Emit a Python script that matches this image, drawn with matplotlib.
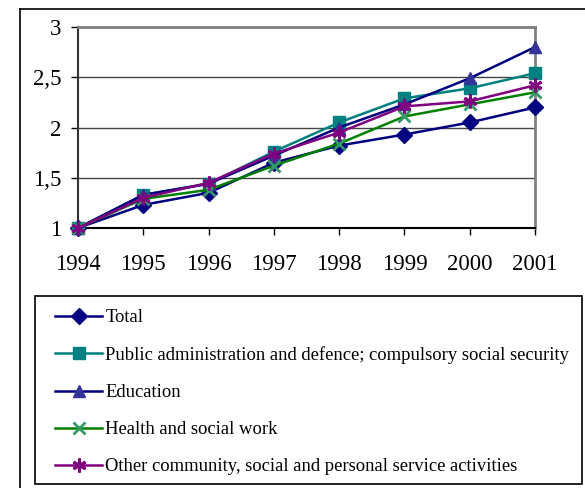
import matplotlib
matplotlib.use("Agg")
import matplotlib.pyplot as plt
from matplotlib.lines import Line2D
from matplotlib.patches import Rectangle

years = ["1994", "1995", "1996", "1997", "1998", "1999", "2000", "2001"]
total = [1.0, 1.23, 1.35, 1.65, 1.82, 1.93, 2.05, 2.20]
public_admin = [1.0, 1.33, 1.44, 1.76, 2.05, 2.29, 2.39, 2.54]
education = [1.0, 1.33, 1.44, 1.72, 2.00, 2.23, 2.49, 2.80]
health = [1.0, 1.29, 1.38, 1.62, 1.84, 2.11, 2.23, 2.35]
other = [1.0, 1.30, 1.45, 1.74, 1.95, 2.21, 2.26, 2.42]

labels = ["Total",
          "Public administration and defence; compulsory social security",
          "Education",
          "Health and social work",
          "Other community, social and personal service activities"]
yticks = [1, 1.5, 2, 2.5, 3]
ytick_labels = ["1", "1,5", "2", "2,5", "3"]

plt.rcParams['font.family'] = ['Liberation Serif', 'DejaVu Serif']

W, H = 585, 488
fig = plt.figure(figsize=(W / 100, H / 100), dpi=100)
ax = fig.add_axes([78 / W, 1 - 228 / H, (535 - 78) / W, (228 - 27) / H])

x = list(range(len(years)))
series = [
    (total, "#000080", "#000080", "D", 8, "#000080"),
    (public_admin, "#008080", "#008080", "s", 8.5, "#008080"),
    (education, "#000080", "#333399", "^", 9, "#333399"),
    (health, "#008000", "#339966", "x", 9, "#339966"),
    (other, "#800080", "#800080", (6, 2, 0), 10, "#800080"),
]
for (vals, lc, mc, mk, ms, mec), lab in zip(series, labels):
    ax.plot(x, vals, color=lc, lw=1.8, marker=mk, markersize=ms,
            markerfacecolor=mc, markeredgecolor=mec,
            markeredgewidth=2 if mk == "x" or isinstance(mk, tuple) else 1,
            label=lab, clip_on=False, zorder=3)

ax.set_xlim(0, len(years) - 1)
ax.set_ylim(1, 3)
ax.set_yticks(yticks)
ax.set_yticklabels(ytick_labels)
ax.set_xticks(x)
ax.set_xticklabels(years)
ax.tick_params(axis='both', labelsize=16.5, direction='out', length=5, width=1, color='black')
ax.tick_params(axis='x', pad=14)
ax.tick_params(axis='y', pad=7)
ax.yaxis.grid(True, color='#444444', lw=1)
ax.set_axisbelow(True)
for s in ['top', 'right']:
    ax.spines[s].set_color('#808080')
    ax.spines[s].set_linewidth(2)
ax.spines['left'].set_color('#333333')
ax.spines['left'].set_linewidth(1.5)
ax.spines['bottom'].set_color('black')
ax.spines['bottom'].set_linewidth(1.5)

# outer frame (top and left edges visible)
fig.add_artist(Line2D([20 / W, 20 / W], [0, 1 - 9 / H], transform=fig.transFigure, color='black', lw=1.2))
fig.add_artist(Line2D([20 / W, 1], [1 - 9 / H, 1 - 9 / H], transform=fig.transFigure, color='black', lw=1.2))

# legend box
fig.add_artist(Rectangle((35 / W, 1 - 484 / H), (582 - 35) / W, (484 - 296) / H,
                         transform=fig.transFigure, fill=False, ec='black', lw=1.2))

handles, labs = ax.get_legend_handles_labels()
leg = fig.legend(handles, labs, loc='upper left',
                 bbox_to_anchor=(55 / W, 1 - 309 / H),
                 fontsize=13.4, frameon=False,
                 handlelength=2.55, handletextpad=0.15,
                 labelspacing=1.08, borderpad=0, borderaxespad=0)

fig.savefig("out.png", dpi=100)
